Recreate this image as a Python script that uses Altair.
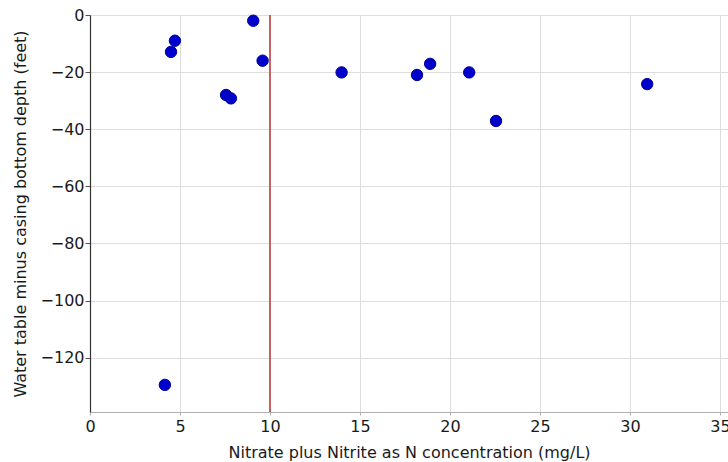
import altair as alt
import pandas as pd

# Nitrate + nitrite concentration (mg/L) vs. water table minus casing bottom depth (feet)
nitrate = [4.16, 4.50, 4.72, 7.56, 7.83, 9.07, 9.59, 13.98, 18.17, 18.90, 21.07, 22.56, 30.96]
depth = [-129.5, -12.9, -9.0, -28.0, -29.2, -2.0, -16.0, -20.1, -21.0, -17.1, -20.1, -37.1, -24.2]

# Drinking-water limit for nitrate as N (mg/L)
limit = [10]

x_ticks = [0, 5, 10, 15, 20, 25, 30, 35]
y_ticks = [0, -20, -40, -60, -80, -100, -120]

wells = pd.DataFrame({"nitrate": nitrate, "depth": depth})
mcl = pd.DataFrame({"limit": limit})

font = "DejaVu Sans"
x_scale = alt.Scale(domain=[0, 35.45], nice=False, zero=False)
y_scale = alt.Scale(domain=[-139, 0], nice=False, zero=False)

points = alt.Chart(wells).mark_circle(
    size=130, color="#0000cc", opacity=1, stroke="#00009a", strokeWidth=1
).encode(
    x=alt.X(
        "nitrate:Q",
        scale=x_scale,
        axis=alt.Axis(
            title="Nitrate plus Nitrite as N concentration (mg/L)",
            values=x_ticks,
            format="d",
            labelFlush=False,
            domainColor="#b0b0b0",
            tickColor="#b0b0b0",
            tickSize=3,
            labelPadding=3,
            titlePadding=10,
        ),
    ),
    y=alt.Y(
        "depth:Q",
        scale=y_scale,
        axis=alt.Axis(
            title="Water table minus casing bottom depth (feet)",
            values=y_ticks,
            format="d",
            labelFlush=False,
            domainColor="#333333",
            tickColor="#555555",
            tickSize=5,
            labelPadding=1,
            titlePadding=12,
        ),
    ),
)

rule = alt.Chart(mcl).mark_rule(color="#c26262", strokeWidth=2).encode(x=alt.X("limit:Q", scale=x_scale))

chart = (
    alt.layer(rule, points)
    .properties(
        width=638,
        height=397,
        autosize=alt.AutoSizeParams(type="none"),
        padding={"left": 90, "top": 15, "right": 0, "bottom": 50},
    )
    .configure_view(strokeWidth=0)
    .configure_axis(
        labelFont=font,
        titleFont=font,
        labelFontSize=16,
        titleFontSize=16,
        titleFontWeight="normal",
        labelColor="#1a1a1a",
        titleColor="#1a1a1a",
        gridColor="#dddddd",
        gridWidth=1,
        domainWidth=1.2,
    )
)

chart.save("out.html", embed_options={"renderer": "svg", "actions": False})
